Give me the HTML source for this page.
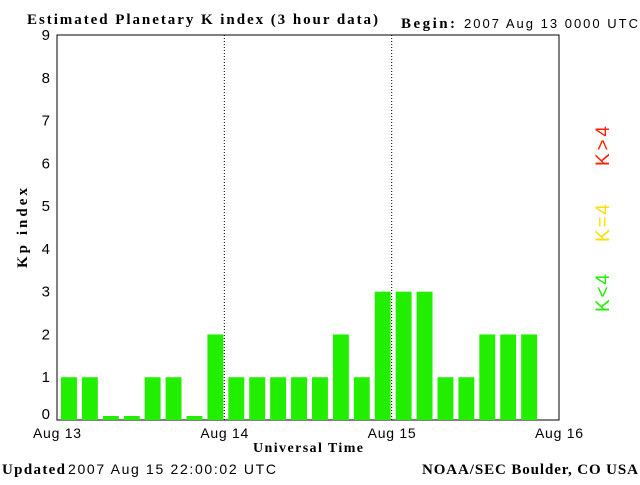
<!DOCTYPE html>
<html><head><meta charset="utf-8"><style>
body{margin:0;background:#fff;width:640px;height:480px;overflow:hidden;font-family:"Liberation Serif",serif}
text{font-family:"Liberation Sans",sans-serif}
.b{font-family:"Liberation Serif",serif;font-weight:bold}
</style></head><body>
<svg id="c" width="640" height="480">
<text x="27" y="24" class="b" font-size="15" textLength="351" lengthAdjust="spacing">Estimated Planetary K index (3 hour data)</text>
<text x="401" y="28" class="b" font-size="15" textLength="54" lengthAdjust="spacing">Begin:</text>
<text x="464" y="28" font-size="13" textLength="174" lengthAdjust="spacing">2007 Aug 13 0000 UTC</text>
<rect x="57" y="35" width="502" height="385" fill="none" stroke="#000"/>
<g id="bars"></g>
<g id="axes"></g>
<text x="253" y="452" class="b" font-size="14" textLength="110" lengthAdjust="spacing">Universal Time</text>
<text transform="translate(27,268) rotate(-90)" class="b" font-size="15" textLength="80" lengthAdjust="spacing">Kp index</text>
<text transform="translate(609,312) rotate(-90)" font-size="19" textLength="38" lengthAdjust="spacing" fill="#22ee00">K&lt;4</text>
<text transform="translate(609,242) rotate(-90)" font-size="19" textLength="38" lengthAdjust="spacing" fill="#ffdd00">K=4</text>
<text transform="translate(609,166) rotate(-90)" font-size="19" textLength="40" lengthAdjust="spacing" fill="#ff2200">K&gt;4</text>
<text x="2" y="474" class="b" font-size="15" textLength="63" lengthAdjust="spacing">Updated</text>
<text x="68" y="474" font-size="14" textLength="208" lengthAdjust="spacing">2007 Aug 15 22:00:02 UTC</text>
<text x="422" y="474" class="b" font-size="15" textLength="216" lengthAdjust="spacing">NOAA/SEC Boulder, CO USA</text>
</svg>
<script>
const kpValues=[1,1,0,0,1,1,0,2,1,1,1,1,1,2,1,3,3,3,1,1,2,2,2];
const yTicks=[0,1,2,3,4,5,6,7,8,9];
const dayLabels=["Aug 13","Aug 14","Aug 15","Aug 16"];
const NS="http://www.w3.org/2000/svg";
const x0=57,x1=559,y0=420,y9=35;
const yS=v=>y0-(v/9)*(y0-y9);
const slot=(x1-x0)/24;
const xS=i=>x0+i*slot;
function mk(t,a,p){const e=document.createElementNS(NS,t);for(const k in a)e.setAttribute(k,a[k]);p.appendChild(e);return e;}
const bars=document.getElementById('bars'),axes=document.getElementById('axes');
kpValues.forEach((v,i)=>{
 const top=v===0?y0-4:yS(v);
 const col=v<4?"#22ee00":v===4?"#ffdd00":"#ff2200";
 const r=mk('rect',{x:xS(i)+4,y:top,width:slot-5,height:y0-top,fill:col},bars);
 
 
});
yTicks.forEach(t=>{
 const tx=mk('text',{x:50,y:yS(t)+(t===0?-1:5),'text-anchor':'end','font-size':15},axes);
 tx.textContent=t;
 
 
});
dayLabels.forEach((d,i)=>{
 const x=x0+i*(x1-x0)/3;
 if(i>0&&i<3){const l=mk('line',{x1:x,x2:x,y1:y9,y2:y0,stroke:'#000','stroke-dasharray':'1,2'},axes);
 
 }
 const tx=mk('text',{x:x-24,y:438,'font-size':14,textLength:48,lengthAdjust:'spacing'},axes);
 tx.textContent=d;
 
 
});
</script>
</body></html>
